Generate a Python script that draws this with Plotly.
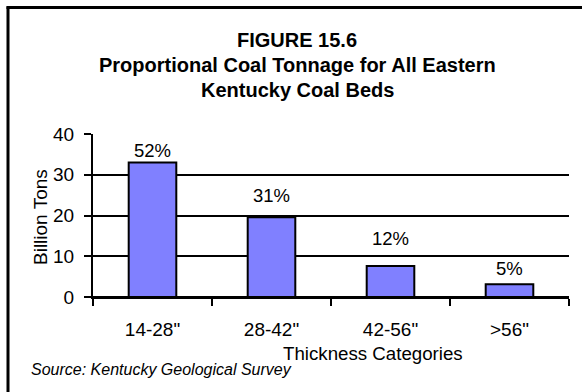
import plotly.graph_objects as go

categories = ['14-28"', '28-42"', '42-56"', '>56"']
billion_tons = [33.0, 19.6, 7.6, 3.1]
pct_labels = ["52%", "31%", "12%", "5%"]
y_ticks = [0, 10, 20, 30, 40]

title_lines = ["FIGURE 15.6", "Proportional Coal Tonnage for All Eastern", "Kentucky Coal Beds"]

# layout geometry (pixels)
W, H = 582, 392
L, R, T, B = 93, 13, 134, 95
PW, PH = W - L - R, H - T - B


def px_x(px):
    return (px - L) / PW


def px_y(py):
    return (H - B - py) / PH


FONT = "Liberation Sans, Arial, sans-serif"
label_shift = [12, 22, 28, 16]

fig = go.Figure(
    go.Bar(
        x=categories,
        y=billion_tons,
        marker=dict(color="#8080ff", line=dict(color="black", width=2)),
        width=0.4,
        hoverinfo="skip",
    )
)

annotations = []
for c, v, t, s in zip(categories, billion_tons, pct_labels, label_shift):
    annotations.append(dict(x=c, y=v, xref="x", yref="y", text=t, showarrow=False,
                            yanchor="middle", yshift=s, font=dict(size=18.5, color="black")))

for i, line in enumerate(title_lines):
    annotations.append(dict(x=px_x(297), y=px_y(40 + 25 * i), xref="paper", yref="paper",
                            text="<b>%s</b>" % line, showarrow=False, xanchor="center",
                            yanchor="middle", font=dict(size=20, color="black")))

annotations.append(dict(x=px_x(40), y=px_y(217), xref="paper", yref="paper", text="Billion Tons",
                        textangle=-90, showarrow=False, xanchor="center", yanchor="middle",
                        font=dict(size=19, color="black")))
annotations.append(dict(x=px_x(373), y=px_y(353), xref="paper", yref="paper",
                        text="Thickness Categories", showarrow=False, xanchor="center",
                        yanchor="middle", font=dict(size=18.7, color="black")))
annotations.append(dict(x=px_x(29), y=px_y(369), xref="paper", yref="paper",
                        text="<i>Source: Kentucky Geological Survey</i>", showarrow=False,
                        xanchor="left", yanchor="middle", font=dict(size=16, color="black")))

shapes = [
    dict(type="line", xref="paper", yref="paper", x0=px_x(8), x1=px_x(8), y0=px_y(6.5), y1=px_y(420),
         line=dict(color="black", width=3)),
    dict(type="line", xref="paper", yref="paper", x0=px_x(6.5), x1=px_x(620), y0=px_y(7.5), y1=px_y(7.5),
         line=dict(color="black", width=3)),
]

fig.update_layout(
    width=W, height=H,
    margin=dict(l=L, r=R, t=T, b=B, pad=0),
    paper_bgcolor="white", plot_bgcolor="white",
    font=dict(family=FONT, color="black"),
    showlegend=False,
    annotations=annotations,
    shapes=shapes,
    xaxis=dict(
        type="category", range=[-0.5, 3.5],
        showline=True, linecolor="black", linewidth=2,
        ticks="outside", tickson="boundaries", ticklen=7, tickwidth=2, tickcolor="black",
        showgrid=False, tickfont=dict(size=19, color="black"), ticklabelstandoff=14,
    ),
    yaxis=dict(
        range=[0, 40], tickvals=y_ticks,
        showline=True, linecolor="black", linewidth=2,
        ticks="outside", ticklen=7, tickwidth=2, tickcolor="black",
        showgrid=True, gridcolor="black", gridwidth=2,
        zeroline=True, zerolinecolor="black", zerolinewidth=2,
        tickfont=dict(size=19, color="black"), ticklabelstandoff=6,
    ),
)

fig.write_html("out.html")
